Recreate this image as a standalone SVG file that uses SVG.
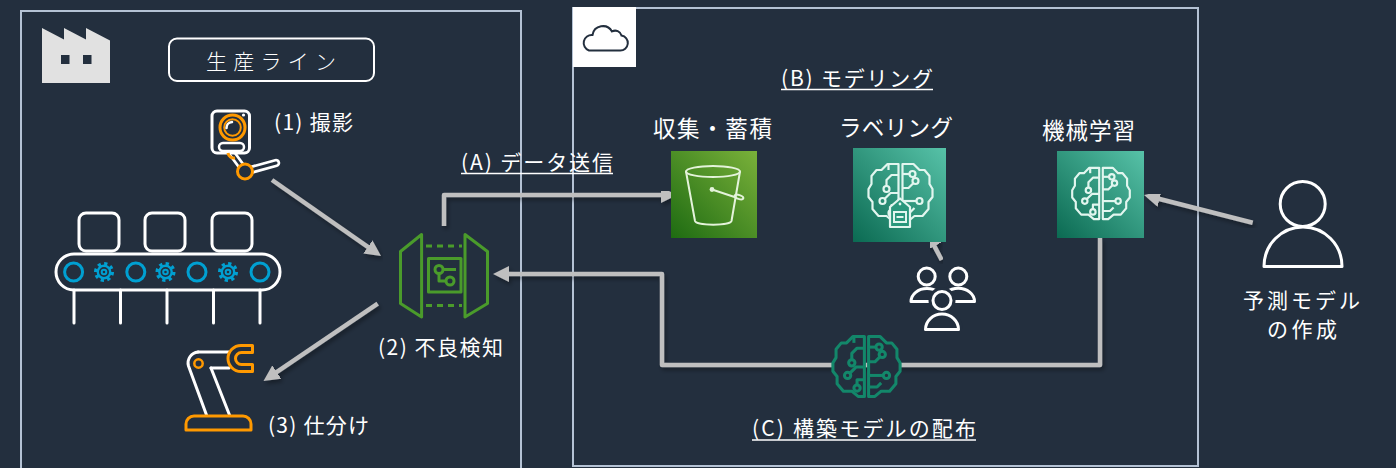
<svg xmlns="http://www.w3.org/2000/svg" width="1396" height="468" viewBox="0 0 1396 468">
  <style>
    .frame { fill: none; stroke: #B4C2D4; stroke-width: 2; }
    .lbl { fill: #FFFFFF; font-family: "Noto Sans CJK JP", "Liberation Sans", sans-serif; font-size: 21px; }
    .lbl-lg { font-size: 22.5px; }
    .uline { stroke: #FFFFFF; stroke-width: 1.5; }
    .wire { fill: none; stroke: #BFBFBF; stroke-width: 4.5; stroke-linejoin: round; filter: url(#shadow); }
    .arrow { marker-end: url(#ah); }
    .white { fill: none; stroke: #FFFFFF; stroke-width: 3; stroke-linecap: round; stroke-linejoin: round; }
    .orange { fill: none; stroke: #FF9900; stroke-width: 3; stroke-linejoin: round; }
    .blue { fill: none; stroke: #00A0D2; stroke-width: 3; }
    .green { fill: none; stroke: #4A9B2B; stroke-width: 3; stroke-linejoin: round; }
    .icon-line { fill: none; stroke: #E4F3DA; stroke-width: 2; stroke-linecap: round; stroke-linejoin: round; }
  </style>
  <defs>
    <filter id="shadow" x="-10%" y="-10%" width="120%" height="130%">
      <feDropShadow dx="2" dy="3" stdDeviation="2" flood-color="#000000" flood-opacity="0.35"/>
    </filter>
    <marker id="ah" markerUnits="userSpaceOnUse" markerWidth="16" markerHeight="16" refX="6" refY="8" orient="auto">
      <path d="M0,0 L16,8 L0,16 z" fill="#BFBFBF"/>
    </marker>
    <linearGradient id="g-s3" x1="0" y1="1" x2="1" y2="0">
      <stop offset="0" stop-color="#1E6B12"/>
      <stop offset="1" stop-color="#7AB13A"/>
    </linearGradient>
    <linearGradient id="g-sm" x1="0" y1="1" x2="1" y2="0">
      <stop offset="0" stop-color="#0B6A52"/>
      <stop offset="1" stop-color="#57C2A8"/>
    </linearGradient>
    <!-- brain outline with circuit traces, centred on 0,0 -->
    <g id="brain">
      <path d="M-2,-28 L-13,-28 L-19,-22 L-24,-22 L-29,-16 L-29,-8 L-32,-3 L-32,5 L-28,10 L-28,17 L-22,24 L-14,24 L-8,29 L-2,29 Z"/>
      <path d="M2,-28 L13,-28 L19,-22 L24,-22 L29,-16 L29,-8 L32,-3 L32,5 L28,10 L28,17 L22,24 L14,24 L8,29 L2,29 Z"/>
      <g fill="none">
        <path d="M-2,-17 H-9 L-14,-12 V-6"/>
        <circle cx="-14" cy="-3" r="3"/>
        <path d="M-2,1 H-10 L-16,7"/>
        <circle cx="-18" cy="9" r="3"/>
        <path d="M-2,13 H-9 V18"/>
        <circle cx="-9" cy="21" r="3"/>
        <path d="M-12,-28 V-22"/>
        <path d="M2,-18 H9"/>
        <circle cx="12" cy="-18" r="3"/>
        <path d="M2,-4 H8 L13,-9"/>
        <circle cx="15" cy="-11" r="3"/>
        <path d="M2,9 H16"/>
        <circle cx="19" cy="9" r="3"/>
        <path d="M2,20 H10 L14,16"/>
      </g>
    </g>
    <!-- conveyor rollers -->
    <circle id="roller" r="9" class="blue"/>
    <g id="gear" fill="none" stroke="#00A0D2">
      <circle r="8.3" stroke-width="3.4" stroke-dasharray="3.2 3.3"/>
      <circle r="6.2" stroke-width="2.4"/>
      <circle r="2.3" stroke-width="2"/>
    </g>
  </defs>

  <rect width="1396" height="468" fill="#232F3E"/>

  <!-- on-premises production line area -->
  <g id="factory-area">
    <rect class="frame" x="21" y="11" width="500" height="470"/>
    <path d="M42,83 V28 L64,39.5 V28 L86,39.5 V28 L110,40.5 V83 Z" fill="#E1E1E1"/>
    <rect x="61" y="55" width="8.5" height="9" fill="#232F3E"/>
    <rect x="83" y="55" width="8.5" height="9" fill="#232F3E"/>
  </g>

  <g id="line-title">
    <rect x="169" y="38.5" width="205" height="42.5" rx="8" fill="none" stroke="#FFFFFF" stroke-width="2"/>
    <text class="lbl" x="206" y="68.5" font-size="24.5" textLength="130" lengthAdjust="spacing" font-weight="300">生産ライン</text>
  </g>

  <!-- cloud area -->
  <g id="cloud-area">
    <rect class="frame" x="573" y="8" width="625" height="458"/>
    <rect x="573" y="7" width="63" height="60" fill="#FFFFFF"/>
    <path d="M589,50.5 H620 A7.5,7.5 0 0 0 621.5,35.6 A6.5,6.5 0 0 0 612,31.5 A10.5,10.5 0 0 0 592.5,35 A8,8 0 0 0 589,50.5 Z" fill="none" stroke="#232F3E" stroke-width="2"/>
  </g>

  <g id="modeling-title">
    <text class="lbl" x="781" y="86" textLength="152" lengthAdjust="spacing">(B) モデリング</text>
    <line class="uline" x1="781" y1="89.5" x2="933" y2="89.5"/>
  </g>

  <!-- connectors -->
  <g id="connectors">
    <path class="wire arrow" d="M272,180 L372.8,250.3"/>
    <path class="wire arrow" d="M377.7,303.7 L271.8,375.4"/>
    <path class="wire arrow" d="M444,226 V195 H667"/>
    <path class="wire arrow" d="M757,195 H843"/>
    <path class="wire arrow" d="M946,195 H1046"/>
    <path class="wire arrow" d="M1252.7,222.7 L1153.7,197.5"/>
    <path class="wire arrow" d="M941.7,260 L931.6,240.9"/>
    <path class="wire arrow" d="M1100,238 V365 H662 V274 H503"/>
  </g>

  <!-- (1) camera -->
  <g id="camera">
    <path d="M231,152 L242,167" stroke="#FFFFFF" stroke-width="8" stroke-linecap="round"/>
    <path d="M231,152 L242,167" stroke="#232F3E" stroke-width="2.5" stroke-linecap="round"/>
    <path d="M245,171.5 L276,163" stroke="#FFFFFF" stroke-width="8.5" stroke-linecap="round"/>
    <path d="M245,171.5 L276,163" stroke="#232F3E" stroke-width="3" stroke-linecap="round"/>
    <rect x="212" y="111" width="37.5" height="42" rx="5" fill="#232F3E" stroke="#FFFFFF" stroke-width="3"/>
    <rect x="219" y="143" width="25" height="8" rx="4" fill="#232F3E" stroke="#FFFFFF" stroke-width="2.5"/>
    <circle cx="232.5" cy="127.5" r="12.5" fill="#232F3E" stroke="#FF9900" stroke-width="3"/>
    <circle cx="232.5" cy="127.5" r="8.3" fill="#232F3E" stroke="#FF9900" stroke-width="2"/>
    <path d="M226.5,128 A6,6 0 0 1 232,122" fill="none" stroke="#FFFFFF" stroke-width="2.5" stroke-linecap="round"/>
    <circle cx="243.5" cy="115" r="1.6" fill="#FFFFFF"/>
    <path d="M228,153 A6,6 0 0 0 235,158" class="orange" stroke-width="2.5"/>
    <circle cx="245" cy="171.5" r="7.5" fill="#232F3E" stroke="#FF9900" stroke-width="3"/>
    <text class="lbl" x="274" y="130" textLength="79" lengthAdjust="spacing">(1) 撮影</text>
  </g>

  <!-- conveyor -->
  <g id="conveyor">
    <rect class="white" x="79" y="213" width="40" height="38" rx="7"/>
    <rect class="white" x="145" y="213" width="40" height="38" rx="7"/>
    <rect class="white" x="212" y="213" width="40" height="38" rx="7"/>
    <rect class="white" x="56" y="254" width="224" height="36" rx="18"/>
    <path class="white" stroke-linecap="butt" d="M74,290 V323 M120.5,290 V323 M167,290 V323 M213.5,290 V323 M260,290 V323"/>
    <use href="#roller" x="73.6" y="272"/>
    <use href="#gear" x="104" y="272"/>
    <use href="#roller" x="135.8" y="272"/>
    <use href="#gear" x="165.5" y="272"/>
    <use href="#roller" x="197" y="272"/>
    <use href="#gear" x="228" y="272"/>
    <use href="#roller" x="260" y="272"/>
  </g>

  <!-- (2) defect detection edge device -->
  <g id="detector">
    <path class="green" d="M421.6,234.5 L400.5,251.5 V303.5 L421.6,317 Z"/>
    <path class="green" d="M465,234.5 L487.5,251.5 V303.5 L465,317 Z"/>
    <path class="green" stroke-dasharray="6 5" d="M426,246 H462 M426,305.5 H462"/>
    <rect class="green" x="428.5" y="258.5" width="32.5" height="33.5"/>
    <circle class="green" cx="439" cy="269.5" r="4" stroke-width="2.6"/>
    <circle class="green" cx="450" cy="281" r="4" stroke-width="2.6"/>
    <path class="green" stroke-width="2.6" d="M439,273.5 V281 H446 M443,269.5 H456"/>
    <text class="lbl" x="378" y="355" textLength="125" lengthAdjust="spacing">(2) 不良検知</text>
  </g>

  <!-- (3) sorting robot -->
  <g id="sorter">
    <path class="white" d="M198,352 H229 M211,368 H229"/>
    <path class="white" d="M211,368 L229.5,415 M206.5,415 L188.5,366 A11,11 0 0 1 198,352"/>
    <circle cx="198.5" cy="363.5" r="4.2" fill="none" stroke="#FF9900" stroke-width="2.5"/>
    <path class="orange" d="M252.5,345.5 H241 A13,13 0 0 0 241,371.5 H252.5 V364.5 H241.5 A6,6 0 0 1 241.5,352.5 H252.5 Z"/>
    <path class="orange" stroke-width="3.5" d="M186,430 V424 A8,8 0 0 1 194,416 H243 A8,8 0 0 1 251,424 V430 Z"/>
    <text class="lbl" x="268" y="432.5" textLength="101" lengthAdjust="spacing">(3) 仕分け</text>
  </g>

  <g id="send-title">
    <text class="lbl" x="461" y="170" textLength="152" lengthAdjust="spacing">(A) データ送信</text>
    <line class="uline" x1="461" y1="173.5" x2="613" y2="173.5"/>
  </g>

  <!-- collection / storage -->
  <g id="s3">
    <rect x="671" y="151" width="86" height="87" fill="url(#g-s3)"/>
    <ellipse class="icon-line" cx="713" cy="171.5" rx="27" ry="5.5"/>
    <path class="icon-line" d="M686,171.5 L695,221 A18.3,4 0 0 0 731.5,221 L740,171.5"/>
    <circle cx="712" cy="189.5" r="2.4" fill="#E4F3DA"/>
    <path class="icon-line" d="M712,189.5 L736,197.5"/>
    <ellipse class="icon-line" cx="739" cy="197" rx="4.5" ry="2" transform="rotate(18 739 197)"/>
    <text class="lbl lbl-lg" x="653" y="137" textLength="119" lengthAdjust="spacing">収集・蓄積</text>
  </g>

  <!-- labelling -->
  <g id="labeling">
    <rect x="853" y="148" width="93" height="94" fill="url(#g-sm)"/>
    <use href="#brain" transform="translate(900.5 192) scale(1)" fill="none" stroke="#E2F6EF" stroke-width="2.2" stroke-linejoin="round"/>
    <path d="M900,198.5 L910,207 V227 H890 V207 Z" fill="#29977C" stroke="#E2F6EF" stroke-width="2.2" stroke-linejoin="round"/>
    <rect x="894" y="212" width="12" height="10" fill="none" stroke="#E2F6EF" stroke-width="2"/>
    <path d="M896.5,217 H903.5" stroke="#E2F6EF" stroke-width="2"/>
    <circle cx="900" cy="204" r="1.4" fill="#E2F6EF"/>
    <text class="lbl lbl-lg" x="839" y="135.5" textLength="114" lengthAdjust="spacing">ラベリング</text>
  </g>

  <!-- labelling workforce -->
  <g id="labelers">
    <circle class="white" cx="926.7" cy="276.5" r="8.5"/>
    <path class="white" d="M911,301.5 A16,13 0 0 1 943,301.5 Z"/>
    <circle class="white" cx="958.3" cy="276.5" r="8.5"/>
    <path class="white" d="M942,301.5 A16,13 0 0 1 974.5,301.5 Z"/>
    <circle cx="942" cy="300.5" r="9" fill="#232F3E" stroke="#232F3E" stroke-width="9"/>
    <path d="M925.5,329.5 A16.5,15.5 0 0 1 958.5,329.5 Z" fill="#232F3E" stroke="#232F3E" stroke-width="9"/>
    <circle class="white" cx="942" cy="300.5" r="9"/>
    <path class="white" d="M925.5,329.5 A16.5,15.5 0 0 1 958.5,329.5 Z"/>
  </g>

  <!-- machine learning -->
  <g id="ml">
    <rect x="1057" y="151" width="87" height="87" fill="url(#g-sm)"/>
    <use href="#brain" transform="translate(1101 193) scale(0.9)" fill="none" stroke="#E2F6EF" stroke-width="2.4" stroke-linejoin="round"/>
    <text class="lbl lbl-lg" x="1042" y="139" textLength="93" lengthAdjust="spacing">機械学習</text>
  </g>

  <!-- model author -->
  <g id="author">
    <circle class="white" cx="1302.7" cy="204" r="22.5" stroke-width="4"/>
    <path class="white" stroke-width="4" d="M1264,266.5 A39,39.5 0 0 1 1342,266.5 Z"/>
    <text class="lbl" x="1243" y="307.5" font-size="20" textLength="117" lengthAdjust="spacing">予測モデル</text>
    <text class="lbl" x="1267" y="337" font-size="20" textLength="70" lengthAdjust="spacing">の作成</text>
  </g>

  <!-- deployed model -->
  <g id="model">
    <use href="#brain" transform="translate(866.5 366) scale(1.05)" fill="#232F3E" stroke="#13876A" stroke-width="2.9" stroke-linejoin="round"/>
    <text class="lbl" x="752" y="436" textLength="224" lengthAdjust="spacing">(C) 構築モデルの配布</text>
    <line class="uline" x1="752" y1="440" x2="976" y2="440"/>
  </g>
</svg>
